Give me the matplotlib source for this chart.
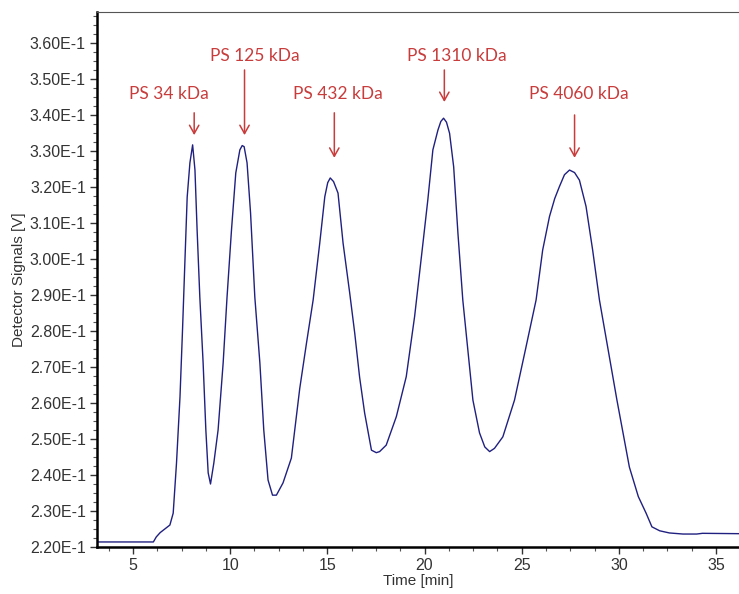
import matplotlib
matplotlib.use("Agg")
import matplotlib.pyplot as plt
from matplotlib.ticker import MultipleLocator, FuncFormatter

# chromatogram trace
time_min = [3.15, 6.05, 6.2, 6.4, 6.9, 7.07, 7.24, 7.42, 7.55, 7.67, 7.79, 7.93,
            8.07, 8.19, 8.30, 8.44, 8.61, 8.75, 8.87, 8.99, 9.16, 9.38, 9.64, 9.84,
            10.07, 10.29, 10.5, 10.62, 10.72, 10.87, 11.05, 11.27, 11.53, 11.73, 11.95,
            12.18, 12.38, 12.72, 13.15, 13.58, 13.93, 14.27, 14.61, 14.87, 15.02, 15.15,
            15.32, 15.55, 15.81, 16.15, 16.41, 16.66, 16.92, 17.27, 17.52, 17.69, 18.03,
            18.55, 19.06, 19.49, 19.92, 20.17, 20.43, 20.69, 20.84, 20.98, 21.13, 21.29,
            21.5, 21.72, 21.97, 22.49, 22.83, 23.1, 23.35, 23.6, 24.03, 24.63, 25.2,
            25.74, 26.08, 26.43, 26.7, 26.94, 27.2, 27.46, 27.72, 27.97, 28.31, 28.65,
            29.0, 29.9, 30.54, 31.0, 31.4, 31.7, 32.1, 32.6, 33.3, 34.0, 34.3, 36.2]
signal = [0.2214, 0.2214, 0.2228, 0.2240, 0.2261, 0.2294, 0.2433, 0.2617, 0.2803,
          0.2989, 0.3172, 0.3267, 0.3317, 0.3247, 0.3081, 0.2894, 0.2711, 0.2525,
          0.2406, 0.2375, 0.2433, 0.2525, 0.2711, 0.2894, 0.3081, 0.3239, 0.3303,
          0.3315, 0.3312, 0.3267, 0.3128, 0.2894, 0.2711, 0.2525, 0.2386, 0.2344,
          0.2344, 0.2378, 0.2447, 0.2640, 0.2767, 0.2886, 0.3044, 0.3173, 0.3212,
          0.3225, 0.3215, 0.3183, 0.3044, 0.2906, 0.2794, 0.2672, 0.2572, 0.2469,
          0.2462, 0.2465, 0.2483, 0.2562, 0.2673, 0.2840, 0.3044, 0.3164, 0.3303,
          0.3358, 0.3382, 0.3391, 0.3380, 0.3349, 0.3256, 0.3071, 0.2886, 0.2608,
          0.2517, 0.2478, 0.2465, 0.2474, 0.2506, 0.2608, 0.2750, 0.2886, 0.3025,
          0.3118, 0.3168, 0.3201, 0.3234, 0.3247, 0.3240, 0.3219, 0.3146, 0.3025,
          0.2886, 0.2608, 0.2422, 0.2340, 0.2294, 0.2256, 0.2245, 0.2239, 0.2236,
          0.2236, 0.2238, 0.2237]

# peak labels: text, text centre, arrow x, arrow start y, arrow tip y
labels = ["PS 34 kDa", "PS 125 kDa", "PS 432 kDa", "PS 1310 kDa", "PS 4060 kDa"]
label_x = [6.85, 11.25, 15.55, 21.67, 27.94]
label_y = [0.3458, 0.3563, 0.3458, 0.3563, 0.3458]
arrow_x = [8.15, 10.74, 15.36, 21.02, 27.72]
arrow_from = [0.3406, 0.3525, 0.3406, 0.3525, 0.3400]
arrow_to = [0.3344, 0.3344, 0.3281, 0.3436, 0.3281]

red = "#c83c3c"
blue = "#202080"

fig = plt.figure(figsize=(7.39, 5.94), dpi=100)
ax = fig.add_axes([97 / 739, 47 / 594, 642 / 739, 535 / 594])

ax.plot(time_min, signal, color=blue, lw=1.0)

ax.set_xlim(3.15, 36.18)
ax.set_ylim(0.22, 0.3686)

ax.xaxis.set_major_locator(MultipleLocator(5))
ax.xaxis.set_minor_locator(MultipleLocator(1.25))
ax.yaxis.set_major_locator(MultipleLocator(0.01))
ax.yaxis.set_minor_locator(MultipleLocator(0.0025))
ax.yaxis.set_major_formatter(FuncFormatter(lambda v, p: f"{v * 10:.2f}E-1"))

ax.tick_params(which="major", length=5, width=1, color="#333333",
               labelsize=11.5, labelcolor="#333333", pad=3)
ax.tick_params(which="minor", length=3, width=0.8, color="#555555")
for t in ax.get_xticklabels() + ax.get_yticklabels():
    t.set_family("Liberation Sans")

ax.spines["right"].set_visible(False)
ax.spines["top"].set_linewidth(0.8)
ax.spines["top"].set_color("#555555")
ax.spines["left"].set_linewidth(1.8)
ax.spines["bottom"].set_linewidth(1.8)

ax.set_xlabel("Time [min]", fontsize=11, family="Liberation Sans", color="#333333", labelpad=1)
ax.set_ylabel("Detector Signals [V]", fontsize=11, family="Liberation Sans", color="#333333", labelpad=3)

for i in range(len(labels)):
    ax.text(label_x[i], label_y[i], labels[i], color=red, fontsize=12.5,
            family="Lato", ha="center", va="center")
    ax.annotate("", xy=(arrow_x[i], arrow_to[i]), xytext=(arrow_x[i], arrow_from[i]),
                arrowprops=dict(arrowstyle="->,head_length=0.5,head_width=0.28",
                                color=red, lw=1.1, mutation_scale=12,
                                shrinkA=0, shrinkB=0))

fig.savefig("out.png", dpi=100)
